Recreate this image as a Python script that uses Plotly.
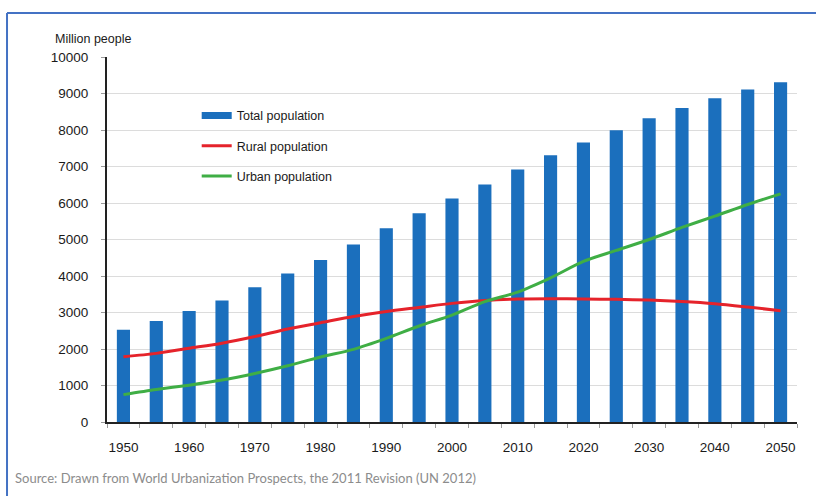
import plotly.graph_objects as go

# Population series (million people), 1950-2050 in 5-year steps
years = [1950, 1955, 1960, 1965, 1970, 1975, 1980, 1985, 1990, 1995, 2000,
         2005, 2010, 2015, 2020, 2025, 2030, 2035, 2040, 2045, 2050]
total_pop = [2530, 2770, 3040, 3330, 3690, 4070, 4440, 4860, 5310, 5720, 6120,
             6510, 6920, 7310, 7660, 7990, 8320, 8600, 8870, 9110, 9310]
rural_pop = [1790, 1880, 2020, 2160, 2340, 2550, 2720, 2890, 3030, 3140, 3250,
             3330, 3370, 3380, 3370, 3360, 3340, 3300, 3240, 3150, 3050]
urban_pop = [750, 890, 1010, 1150, 1330, 1540, 1780, 1990, 2290, 2630, 2930,
             3300, 3560, 3950, 4400, 4700, 5000, 5330, 5640, 5960, 6250]

x_tick_vals = [1950, 1960, 1970, 1980, 1990, 2000, 2010, 2020, 2030, 2040, 2050]
y_tick_vals = [0, 1000, 2000, 3000, 4000, 5000, 6000, 7000, 8000, 9000, 10000]

BLUE = "#1b6fbd"
RED = "#e5232b"
GREEN = "#3fae45"
TICK_FONT = dict(family="Liberation Sans, Arial, sans-serif", size=13.5, color="#1a1a1a")

fig = go.Figure()
fig.add_trace(go.Bar(
    x=years, y=total_pop, name="Total population",
    marker=dict(color=BLUE, line=dict(width=0)),
    width=2.0, showlegend=False,
))
# legend key for the bars, drawn as a flat band
fig.add_trace(go.Scatter(
    x=[None], y=[None], name="Total population", mode="lines",
    line=dict(color=BLUE, width=7), legendgroup="a",
))
fig.add_trace(go.Scatter(
    x=years, y=rural_pop, name="Rural population", mode="lines",
    line=dict(color=RED, width=3, shape="spline", smoothing=0.8),
    legendgroup="b",
))
fig.add_trace(go.Scatter(
    x=years, y=urban_pop, name="Urban population", mode="lines",
    line=dict(color=GREEN, width=3, shape="spline", smoothing=0.8),
    legendgroup="c",
))

fig.update_layout(
    width=816, height=496,
    margin=dict(l=107, r=19, t=57, b=74),
    paper_bgcolor="white", plot_bgcolor="white",
    showlegend=True,
    legend=dict(
        x=0.13, y=0.88, xanchor="left", yanchor="top",
        font=dict(family="Liberation Sans, Arial, sans-serif", size=12.5, color="#1a1a1a"),
        bgcolor="rgba(0,0,0,0)", tracegroupgap=11, itemwidth=30,
    ),
    xaxis=dict(
        range=[1947.5, 2052.5],
        tickvals=x_tick_vals, ticktext=[str(v) for v in x_tick_vals],
        ticks="", tickfont=TICK_FONT, ticklabelstandoff=12,
        showgrid=False, zeroline=False,
        showline=True, linecolor="#222222", linewidth=2,
        minor=dict(tick0=1947.5, dtick=5, ticks="outside", ticklen=4,
                   tickcolor="#9a9a9a", tickwidth=1, showgrid=False),
        fixedrange=True,
    ),
    yaxis=dict(
        range=[0, 10000], tickvals=y_tick_vals,
        ticktext=[str(v) for v in y_tick_vals],
        ticks="outside", ticklen=4, tickcolor="#9a9a9a", tickwidth=1,
        tickfont=TICK_FONT, ticklabelstandoff=10,
        showgrid=True, gridcolor="#dcdcdc", gridwidth=1, zeroline=False,
        showline=True, linecolor="#222222", linewidth=2,
        fixedrange=True,
    ),
    shapes=[
        # blue frame along the top and left edges
        dict(type="line", xref="paper", yref="paper",
             x0=-0.1449, x1=1.05, y0=1.1205, y1=1.1205,
             line=dict(color="#4472c4", width=2)),
        dict(type="line", xref="paper", yref="paper",
             x0=-0.1449, x1=-0.1449, y0=1.1205, y1=-0.25,
             line=dict(color="#4472c4", width=2)),
    ],
    annotations=[
        dict(text="Million people", xref="paper", yref="paper",
             x=-0.078, y=1.048, xanchor="left", yanchor="middle", showarrow=False,
             font=dict(family="Liberation Sans, Arial, sans-serif", size=12.5, color="#1a1a1a")),
        dict(text="Source: Drawn from World Urbanization Prospects, the 2011 Revision (UN 2012)",
             xref="paper", yref="paper", x=-0.136, y=-0.153,
             xanchor="left", yanchor="middle", showarrow=False,
             font=dict(family="Lato, sans-serif", size=13, color="#8c8c8c")),
    ],
)

fig.write_html("out.html")
